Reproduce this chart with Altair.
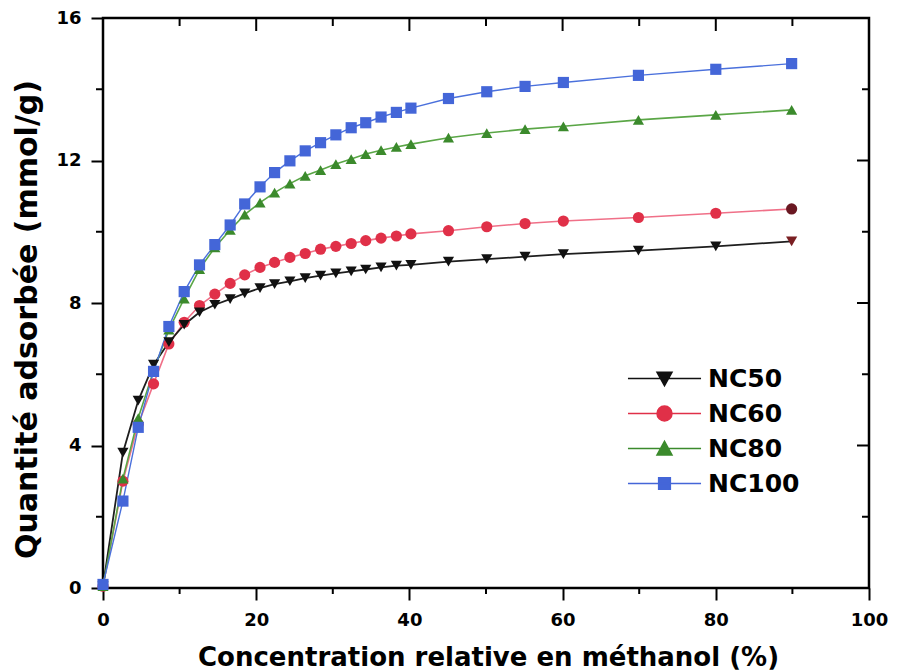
import altair as alt
import pandas as pd

# ---------------- data ----------------
conc = [0, 2.6, 4.6, 6.6, 8.6, 10.6, 12.6, 14.6, 16.6, 18.5, 20.5, 22.4, 24.4, 26.4,
        28.4, 30.4, 32.4, 34.3, 36.3, 38.3, 40.2, 45.1, 50.1, 55.1, 60.1, 69.9, 80.0, 89.9]

nc50 = [0.05, 3.80, 5.26, 6.27, 6.90, 7.39, 7.74, 7.95, 8.11, 8.27, 8.42, 8.53, 8.61, 8.70,
        8.77, 8.83, 8.89, 8.94, 9.00, 9.05, 9.07, 9.16, 9.23, 9.30, 9.37, 9.47, 9.59, 9.73]
nc60 = [0.05, 3.00, 4.60, 5.73, 6.85, 7.46, 7.93, 8.25, 8.55, 8.79, 9.00, 9.14, 9.28, 9.39,
        9.51, 9.59, 9.67, 9.75, 9.82, 9.88, 9.94, 10.03, 10.14, 10.23, 10.30, 10.40, 10.52, 10.64]
nc80 = [0.05, 3.07, 4.77, 6.10, 7.25, 8.12, 8.95, 9.56, 10.05, 10.48, 10.82, 11.10, 11.35, 11.57,
        11.73, 11.90, 12.04, 12.18, 12.29, 12.38, 12.46, 12.64, 12.77, 12.88, 12.96, 13.14, 13.28, 13.42]
nc100 = [0.10, 2.44, 4.51, 6.08, 7.34, 8.32, 9.07, 9.64, 10.19, 10.78, 11.26, 11.66, 11.99, 12.27,
         12.50, 12.72, 12.92, 13.06, 13.22, 13.35, 13.47, 13.74, 13.93, 14.08, 14.19, 14.39, 14.56, 14.72]

series_names = ["NC50", "NC60", "NC80", "NC100"]
x_major = [0, 20, 40, 60, 80, 100]
x_minor = [10, 30, 50, 70, 90]
y_major = [0, 4, 8, 12, 16]
y_minor = [2, 6, 10, 14]

rows = []
for name, vals in zip(series_names, [nc50, nc60, nc80, nc100]):
    for xv, yv in zip(conc, vals):
        rows.append({"x": xv, "y": yv, "series": name})
df = pd.DataFrame(rows)

# ---------------- style ----------------
W, H = 766, 570
FONT = "DejaVu Sans"
style = {
    "NC50": dict(shape="triangle-down", marker="#111111", line="#1e1e1e", lw=1.8, last="#7a1f22"),
    "NC60": dict(shape="circle", marker="#e03048", line="#f07088", lw=1.6, last="#6a1822"),
    "NC80": dict(shape="triangle-up", marker="#3b8a2c", line="#5aa646", lw=1.6, last="#3b8a2c"),
    "NC100": dict(shape="square", marker="#4466d8", line="#4a70dc", lw=1.4, last="#4466d8"),
}
draw_order = ["NC60", "NC50", "NC80", "NC100"]

xs = alt.Scale(domain=[0, 100], nice=False, zero=False)
ys = alt.Scale(domain=[0, 16], nice=False)

x_axis = alt.Axis(values=x_major, title="Concentration relative en méthanol (%)",
                  labelPadding=11, labelFlush=False, titleBaseline="alphabetic",
                  titleY=77, titleX=W / 2 + 2, titleFontSize=26)
y_axis = alt.Axis(values=y_major, title="Quantité adsorbée (mmol/g)",
                  labelPadding=10, labelFlush=False, titleBaseline="alphabetic",
                  titleX=-67, titleY=H / 2 + 16, titleAngle=-90, titleFontSize=30)


def X(field="x"):
    return alt.X(f"{field}:Q", scale=xs, axis=x_axis)


def Y(field="y"):
    return alt.Y(f"{field}:Q", scale=ys, axis=y_axis)


layers = []
for name in draw_order:
    st = style[name]
    sub = alt.Chart(df).transform_filter(alt.datum.series == name)
    layers.append(sub.mark_line(color=st["line"], strokeWidth=st["lw"]).encode(x=X(), y=Y()))
for name in draw_order:
    st = style[name]
    sub = alt.Chart(df).transform_filter(alt.datum.series == name)
    pts = sub.mark_point(filled=True, shape=st["shape"], size=125, opacity=1, strokeWidth=0).encode(
        x=X(), y=Y(),
        color=alt.condition(alt.datum.x > 89, alt.value(st["last"]), alt.value(st["marker"])),
    )
    layers.append(pts)

# frame ticks (top/right inward, minor outward on left/bottom)
xt_major = pd.DataFrame({"t": x_major})
xt_minor = pd.DataFrame({"t": x_minor})
yt_major = pd.DataFrame({"t": y_major})
yt_minor = pd.DataFrame({"t": y_minor})
tick_kw = dict(color="black", strokeWidth=2)
layers += [
    alt.Chart(xt_major).mark_rule(**tick_kw).encode(x=X("t"), y=alt.value(0), y2=alt.value(13)),
    alt.Chart(xt_minor).mark_rule(**tick_kw).encode(x=X("t"), y=alt.value(0), y2=alt.value(8)),
    alt.Chart(xt_minor).mark_rule(**tick_kw).encode(x=X("t"), y=alt.value(H), y2=alt.value(H + 6)),
    alt.Chart(yt_major).mark_rule(**tick_kw).encode(y=Y("t"), x=alt.value(W), x2=alt.value(W - 12)),
    alt.Chart(yt_minor).mark_rule(**tick_kw).encode(y=Y("t"), x=alt.value(W), x2=alt.value(W - 7)),
    alt.Chart(yt_minor).mark_rule(**tick_kw).encode(y=Y("t"), x=alt.value(0), x2=alt.value(-7)),
]

# legend layer: invisible points, legend symbols = line + marker paths
k = 4.87
legend_paths = [
    f"M-{k},0H{k}M-1,-0.85L1,-0.85L0,0.95Z",
    f"M-{k},0H{k}M-1,0A1,1 0 1,0 1,0A1,1 0 1,0 -1,0Z",
    f"M-{k},0H{k}M-1,0.85L1,0.85L0,-0.95Z",
    f"M-{k},0H{k}M-0.78,-0.78H0.78V0.78H-0.78Z",
]
marker_colors = [style[n]["marker"] for n in series_names]
leg = alt.Legend(orient="none", legendX=549, legendY=348, title=None, padding=0,
                 symbolSize=225, symbolStrokeWidth=1.5, symbolOpacity=1,
                 labelFont=FONT, labelFontSize=25, labelFontWeight="bold", labelColor="black",
                 labelOffset=31, rowPadding=9, labelLimit=300)
legend_layer = alt.Chart(df).mark_point(filled=True, opacity=0).encode(
    x=X(), y=Y(),
    shape=alt.Shape("series:N", scale=alt.Scale(domain=series_names, range=legend_paths), legend=leg),
    fill=alt.Fill("series:N", scale=alt.Scale(domain=series_names, range=marker_colors), legend=leg),
    stroke=alt.Stroke("series:N", scale=alt.Scale(domain=series_names, range=marker_colors), legend=leg),
)
layers.append(legend_layer)

chart = alt.layer(*layers).properties(
    width=W, height=H,
    autosize=alt.AutoSizeParams(type="none"),
    padding={"left": 95, "top": 10, "right": 20, "bottom": 84},
    background="white",
).configure_view(
    stroke="black", strokeWidth=2.5,
).configure_axis(
    labelFont=FONT, labelFontSize=18, labelFontWeight="bold", labelColor="black",
    titleFont=FONT, titleFontWeight="bold", titleColor="black",
    tickColor="black", tickWidth=2, tickSize=12, domain=False, grid=False,
)

chart.save("out.html", embed_options={"renderer": "svg", "actions": False})
